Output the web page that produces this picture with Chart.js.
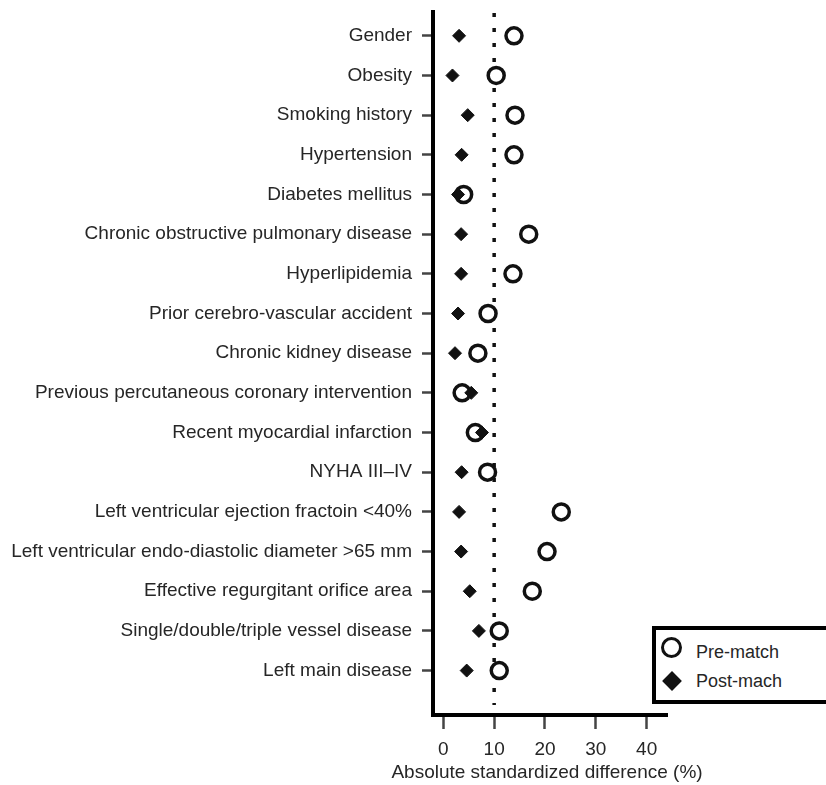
<!DOCTYPE html>
<html>
<head>
<meta charset="utf-8">
<script src="https://cdn.jsdelivr.net/npm/chart.js@4.4.1/dist/chart.umd.min.js"></script>
<style>
  html, body { margin: 0; padding: 0; background: #fff; }
  #wrap { position: relative; width: 826px; height: 785px; overflow: hidden; }
  #legend {
    position: absolute; left: 652px; top: 626px; width: 200px; height: 70px;
    border: 4px solid #000; background: #fff;
    font-family: "Liberation Sans", Arial, Helvetica, sans-serif; font-size: 18px; color: #262626;
  }
  .item { position: absolute; left: 40px; line-height: 20px; }
  .sym { position: absolute; }
  .circ { left: 5px; width: 15px; height: 15px; border: 3.5px solid #111; border-radius: 50%; box-sizing: content-box; }
  .diam { left: 9px; width: 14px; height: 14px; background: #111; transform: rotate(45deg); }
</style>
</head>
<body>
<div id="wrap">
  <canvas id="chart" width="826" height="785"></canvas>
  <div id="legend">
    <div class="sym circ" style="top:7px"></div>
    <div class="item" style="top:12px">Pre-match</div>
    <div class="sym diam" style="top:44px"></div>
    <div class="item" style="top:41px">Post-mach</div>
  </div>
</div>
<script>
// 変数一覧
const categories = [
  'Gender',
  'Obesity',
  'Smoking history',
  'Hypertension',
  'Diabetes mellitus',
  'Chronic obstructive pulmonary disease',
  'Hyperlipidemia',
  'Prior cerebro-vascular accident',
  'Chronic kidney disease',
  'Previous percutaneous coronary intervention',
  'Recent myocardial infarction',
  'NYHA III\u2013IV',
  'Left ventricular ejection fractoin <40%',
  'Left ventricular endo-diastolic diameter >65 mm',
  'Effective regurgitant orifice area',
  'Single/double/triple vessel disease',
  'Left main disease'
];
const preMatch  = [13.9, 10.4, 14.1, 13.9, 4.0, 16.8, 13.7, 8.8, 6.8, 3.7, 6.3, 8.7, 23.2, 20.4, 17.5, 11.0, 11.0];
const postMatch = [3.1, 1.8, 4.8, 3.6, 2.9, 3.5, 3.5, 2.9, 2.3, 5.5, 7.6, 3.6, 3.1, 3.5, 5.2, 7.0, 4.6];
const xTicks = [0, 10, 20, 30, 40];
const refValue = 10;
const xTitle = 'Absolute standardized difference (%)';

const FONT = '"Liberation Sans", Arial, Helvetica, sans-serif';
const TEXT = '#262626';

// 点線（基準線）とx軸タイトル
const refLine = {
  id: 'refLine',
  beforeDatasetsDraw(chart) {
    const { ctx, chartArea, scales: { x } } = chart;
    const px = x.getPixelForValue(refValue);
    ctx.save();
    ctx.setLineDash([4, 11]);
    ctx.lineWidth = 3.5;
    ctx.strokeStyle = '#111';
    ctx.beginPath();
    ctx.moveTo(px, chartArea.top + 1);
    ctx.lineTo(px, chartArea.bottom - 10);
    ctx.stroke();
    ctx.restore();
  },
  afterDraw(chart) {
    // タイトルは縮めずに描く
    const { ctx, chartArea } = chart;
    ctx.save();
    ctx.font = '19px ' + FONT;
    ctx.fillStyle = TEXT;
    ctx.textAlign = 'center';
    ctx.textBaseline = 'middle';
    ctx.fillText(xTitle, (chartArea.left + chartArea.right) / 2 - 3, chart.height - 12);
    ctx.restore();
  }
};

const toPoints = arr => arr.map((v, i) => ({ x: v, y: i }));

new Chart(document.getElementById('chart').getContext('2d'), {
  type: 'scatter',
  data: {
    datasets: [
      {
        label: 'Post-mach',
        data: toPoints(postMatch),
        pointStyle: 'rectRot',
        pointRadius: 6.5,
        borderWidth: 1,
        borderColor: '#111',
        backgroundColor: '#111',
        order: 0
      },
      {
        label: 'Pre-match',
        data: toPoints(preMatch),
        pointStyle: 'circle',
        pointRadius: 8,
        borderWidth: 3.5,
        borderColor: '#111',
        backgroundColor: '#fff',
        order: 1
      }
    ]
  },
  plugins: [refLine],
  options: {
    responsive: false,
    animation: false,
    devicePixelRatio: 1,
    layout: { padding: { top: 12, right: 159, left: 0, bottom: 0 } },
    plugins: { legend: { display: false }, tooltip: { enabled: false } },
    scales: {
      x: {
        type: 'linear',
        min: -2.03,
        max: 44,
        afterBuildTicks: s => { s.ticks = xTicks.map(v => ({ value: v })); },
        afterFit: s => { s.height = 70; s.paddingLeft = 0; s.paddingRight = 0; },
        border: { display: true, color: '#000', width: 4 },
        grid: { drawOnChartArea: false, drawTicks: true, tickLength: 14, tickWidth: 2.5, tickColor: '#444' },
        ticks: { color: TEXT, font: { family: FONT, size: 19 }, padding: 9, maxRotation: 0 }
      },
      y: {
        type: 'linear',
        reverse: true,
        min: -0.6,
        max: 17.12,
        afterBuildTicks: s => { s.ticks = categories.map((c, i) => ({ value: i })); },
        afterFit: s => { s.width = 433; s.paddingTop = 0; s.paddingBottom = 0; },
        border: { display: true, color: '#000', width: 4 },
        grid: { drawOnChartArea: false, drawTicks: true, tickLength: 11, tickWidth: 2.5, tickColor: '#444' },
        ticks: {
          color: TEXT,
          font: { family: FONT, size: 19 },
          padding: 10,
          autoSkip: false,
          callback: v => categories[v]
        }
      }
    }
  }
});
</script>
</body>
</html>
